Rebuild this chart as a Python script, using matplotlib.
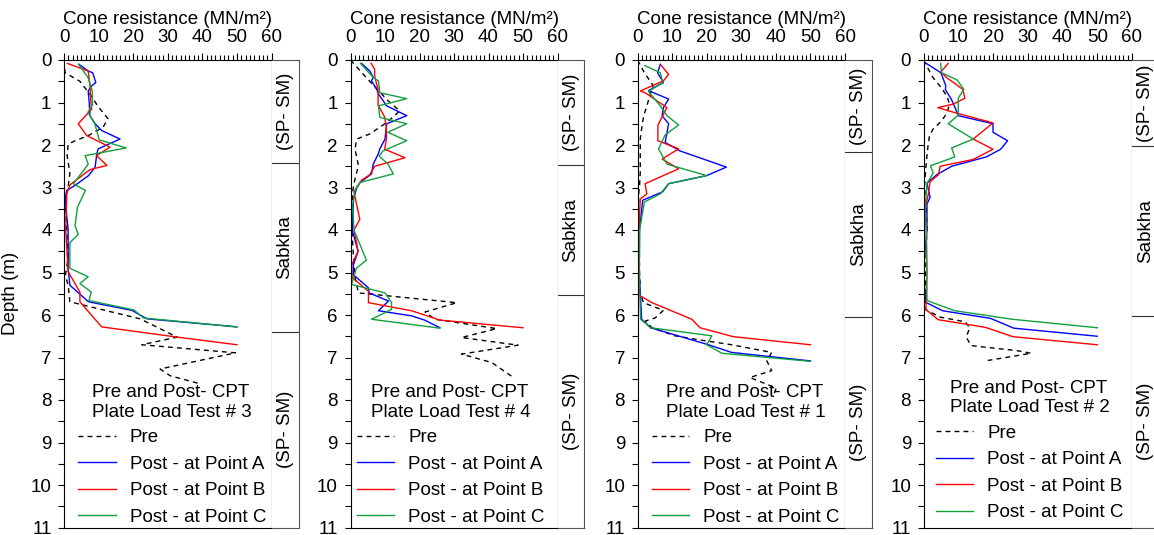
import matplotlib
matplotlib.use('Agg')
import matplotlib.pyplot as plt
from matplotlib.ticker import MultipleLocator

plt.rcParams['font.family'] = ['Liberation Sans', 'DejaVu Sans']
plt.rcParams['font.size'] = 13.5

# ---- data (depth in m, cone resistance in MN/m2) ----
# Plate Load Test # 3
t3_pre_d = [0, 0.3, 0.5, 0.86, 1.1, 1.38, 1.58, 1.78, 1.9, 1.98, 2.25, 2.66, 2.98, 3.3, 4.0, 4.66, 5.07, 5.3, 5.69, 6.09, 6.52, 6.7, 6.89, 7.27, 7.43, 7.62]
t3_pre_q = [0, 0.3, 4.6, 8.0, 9.9, 12.7, 11.3, 7.0, 3.2, 1.2, 0.9, 1.7, 1.2, 0.3, 0.8, 1.2, 0.4, 1.2, 1.7, 22.0, 32.7, 22.5, 49.6, 27.8, 30.7, 39.4]
t3_a_d = [0.1, 0.26, 0.3, 0.53, 0.61, 0.73, 1.0, 1.31, 1.5, 1.66, 1.86, 2.09, 2.2, 2.52, 2.72, 2.95, 3.07, 3.27, 4.0, 4.9, 5.3, 5.69, 5.89, 6.09, 6.28]
t3_a_q = [4.3, 7.0, 8.3, 9.2, 8.0, 7.0, 7.3, 7.5, 9.0, 10.9, 16.2, 9.9, 9.5, 9.0, 7.1, 3.2, 0.8, 0.3, 1.2, 1.2, 1.7, 7.1, 19.6, 24.0, 50.0]
t3_b_d = [0.08, 0.26, 0.6, 1.0, 1.16, 1.5, 1.78, 2.05, 2.25, 2.48, 2.58, 2.82, 2.94, 3.14, 4.0, 4.98, 5.46, 5.69, 6.28, 6.52, 6.7]
t3_b_q = [1.0, 7.0, 7.5, 7.8, 8.0, 4.1, 6.6, 13.3, 9.4, 12.4, 7.5, 3.6, 1.7, 0.8, 0.5, 1.2, 4.6, 4.6, 10.9, 32.7, 50.0]
t3_c_d = [0.1, 0.42, 0.74, 1.06, 1.23, 1.5, 1.88, 2.07, 2.25, 2.45, 2.84, 2.91, 3.07, 3.46, 3.9, 4.1, 4.3, 4.9, 5.1, 5.26, 5.46, 5.66, 5.88, 6.07, 6.28]
t3_c_q = [4.2, 7.0, 8.2, 8.2, 6.9, 8.9, 10.2, 18.0, 6.1, 7.0, 3.4, 2.7, 6.2, 3.9, 3.2, 4.1, 1.7, 1.7, 7.0, 4.6, 7.9, 7.2, 20.2, 23.0, 50.0]
t3_layers = [0, 2.42, 6.4, 11]

# Plate Load Test # 4
t4_pre_d = [0, 0.47, 0.96, 1.2, 1.47, 1.74, 1.86, 2.1, 2.48, 2.8, 3.1, 4.0, 5.07, 5.48, 5.71, 5.93, 6.1, 6.32, 6.53, 6.71, 6.92, 7.12, 7.47]
t4_pre_q = [0, 5.2, 10.9, 14.3, 10.5, 5.6, 1.8, 1.3, 2.3, 1.3, 0.6, 0.4, 1.2, 2.3, 30.8, 21.6, 24.5, 42.4, 32.2, 48.6, 32.2, 41.0, 47.2]
t4_a_d = [0.08, 0.26, 0.41, 0.49, 0.69, 0.8, 1.08, 1.31, 1.5, 1.86, 2.09, 2.2, 2.45, 2.68, 2.88, 3.0, 3.27, 4.0, 4.5, 4.83, 5.05, 5.36, 5.48, 5.67, 5.9, 6.02, 6.12, 6.3]
t4_a_q = [3.2, 5.6, 6.6, 6.1, 7.6, 8.1, 10.5, 16.3, 10.5, 10.0, 8.5, 8.1, 6.6, 6.1, 2.8, 1.8, 0.9, 0.5, 2.2, 0.8, 0.8, 5.2, 5.4, 11.0, 8.1, 17.7, 21.5, 25.9]
t4_b_d = [0.08, 0.22, 0.38, 0.7, 1.06, 1.34, 1.58, 1.86, 2.1, 2.3, 2.5, 2.7, 2.83, 3.1, 3.75, 4.0, 4.27, 4.5, 4.83, 5.12, 5.44, 5.71, 5.9, 6.12, 6.3]
t4_b_q = [6.0, 7.0, 7.0, 8.0, 8.0, 9.9, 10.4, 10.4, 9.9, 15.8, 7.0, 5.6, 3.2, 1.0, 2.7, 1.0, 1.7, 2.2, 0.3, 0.5, 5.2, 5.2, 17.7, 25.9, 50.0]
t4_c_d = [0.08, 0.41, 0.49, 0.77, 0.91, 1.08, 1.35, 1.5, 1.7, 1.9, 2.14, 2.26, 2.45, 2.68, 2.88, 3.07, 3.42, 4.0, 4.71, 4.9, 5.28, 5.48, 5.71, 5.87, 6.1, 6.31]
t4_c_q = [2.9, 6.6, 8.1, 8.5, 16.3, 8.1, 8.5, 16.3, 10.8, 16.3, 9.4, 8.3, 10.9, 12.4, 2.8, 1.3, 0.6, 1.0, 4.6, 1.7, 0.3, 10.0, 11.9, 11.9, 6.1, 25.9]
t4_layers = [0, 2.48, 5.52, 11]

# Plate Load Test # 1
t1_pre_d = [0, 0.3, 0.6, 0.8, 1.08, 1.31, 1.55, 1.86, 2.17, 2.64, 2.95, 3.19, 4.0, 5.0, 5.47, 5.71, 5.89, 6.07, 6.14, 6.3, 6.49, 6.57, 6.7, 6.88, 7.08, 7.31, 7.47, 7.72, 7.92]
t1_pre_q = [0, 2.0, 4.5, 3.7, 2.7, 1.8, 1.3, 0.8, 0.8, 0.8, 0.6, 0.3, 0.5, 0.6, 0.8, 1.7, 7.5, 5.1, 2.3, 4.2, 10.9, 16.7, 27.2, 38.8, 37.4, 38.8, 32.5, 40.1, 39.2]
t1_a_d = [0.1, 0.3, 0.53, 0.72, 0.92, 1.12, 1.31, 1.5, 1.94, 2.14, 2.52, 2.72, 2.91, 3.1, 3.3, 4.0, 5.0, 6.1, 6.3, 6.7, 6.88, 7.08]
t1_a_q = [6.6, 5.8, 7.5, 3.2, 9.0, 7.5, 7.1, 9.0, 8.0, 12.3, 25.7, 20.0, 9.0, 7.3, 1.5, 0.6, 0.5, 1.2, 3.8, 20.5, 27.2, 50.0]
t1_b_d = [0.13, 0.34, 0.49, 0.73, 0.77, 1.12, 1.53, 1.9, 2.09, 2.33, 2.56, 2.91, 3.15, 3.27, 4.0, 5.0, 5.52, 5.71, 6.1, 6.3, 6.51, 6.7]
t1_b_q = [6.9, 9.0, 7.5, 0.8, 2.2, 8.5, 5.9, 5.9, 11.9, 7.1, 11.9, 2.2, 2.7, 0.8, 0.4, 0.5, 0.2, 4.2, 15.7, 18.1, 27.7, 50.0]
t1_c_d = [0.13, 0.3, 0.53, 0.74, 1.08, 1.31, 1.53, 1.76, 2.09, 2.45, 2.72, 2.91, 3.15, 3.34, 4.0, 5.0, 6.1, 6.3, 6.49, 6.7, 6.9, 7.09]
t1_c_q = [2.1, 6.6, 7.3, 3.2, 6.6, 8.5, 11.9, 8.0, 6.1, 8.5, 20.0, 9.0, 6.6, 2.0, 0.6, 0.5, 0.9, 3.8, 21.5, 20.0, 24.4, 50.0]
t1_layers = [0, 2.17, 6.04, 11]

# Plate Load Test # 2
t2_pre_d = [0, 0.41, 0.65, 0.86, 1.05, 1.27, 1.45, 1.63, 1.8, 2.02, 2.4, 2.95, 3.9, 5.0, 5.87, 6.05, 6.16, 6.3, 6.52, 6.72, 6.84, 6.9, 7.07]
t2_pre_q = [0, 2.7, 5.1, 6.8, 7.5, 6.6, 5.0, 2.7, 1.7, 1.3, 0.8, 0.3, 1.0, 0.6, 0.5, 4.8, 12.0, 13.3, 12.3, 13.7, 27.0, 31.0, 18.5]
t2_a_d = [0.08, 0.3, 0.6, 0.7, 0.92, 1.22, 1.31, 1.5, 1.7, 1.9, 2.1, 2.28, 2.5, 2.7, 2.9, 3.23, 3.39, 4.0, 4.9, 5.7, 5.9, 6.08, 6.31, 6.5]
t2_a_q = [0.8, 5.0, 6.4, 6.3, 8.0, 9.6, 10.0, 20.0, 20.0, 24.2, 22.2, 18.1, 8.1, 3.8, 1.0, 1.9, 1.0, 1.0, 0.0, 0.6, 5.5, 19.3, 26.0, 50.0]
t2_b_d = [0.08, 0.28, 0.41, 0.69, 0.9, 1.04, 1.12, 1.25, 1.48, 1.86, 2.1, 2.34, 2.5, 2.7, 2.86, 3.15, 3.5, 4.0, 5.0, 5.87, 6.11, 6.29, 6.51, 6.7]
t2_b_q = [7.1, 5.0, 6.6, 11.3, 11.9, 8.5, 4.1, 9.5, 20.0, 14.3, 20.0, 14.3, 4.8, 4.3, 1.9, 1.4, 0.5, 0.8, 1.0, 0.7, 4.2, 17.8, 25.7, 50.0]
t2_c_d = [0.08, 0.3, 0.47, 0.69, 0.9, 1.3, 1.5, 1.86, 2.07, 2.28, 2.49, 2.66, 2.9, 3.5, 4.0, 5.0, 5.66, 5.9, 6.1, 6.3]
t2_c_q = [4.9, 5.2, 9.7, 11.6, 10.0, 10.0, 7.1, 14.3, 8.1, 9.0, 2.0, 2.8, 1.0, 0.5, 0.8, 0.9, 1.0, 9.0, 25.5, 50.0]
t2_layers = [0, 2.03, 6.02, 11]

layer_names = ['(SP- SM)', 'Sabkha', '(SP- SM)']
series_labels = ['Pre', 'Post - at Point A', 'Post - at Point B', 'Post - at Point C']
series_colors = ['black', '#0000ff', '#ff0000', '#10a03c']

W, H = 1154, 535
fig = plt.figure(figsize=(W / 100, H / 100), dpi=100)

AX_TOP, AX_BOT = 60, 527.5
COL_W = 27


def frac_box(x0, x1):
    return [x0 / W, (H - AX_BOT) / H, (x1 - x0) / W, (AX_BOT - AX_TOP) / H]


def draw_panel(x0, x1, test_no, curves, layers, leg_x, leg_y, first=False):
    ax = fig.add_axes(frac_box(x0, x1))
    for k, (d, q) in enumerate(curves):
        ls = (0, (3.5, 3)) if k == 0 else '-'
        ax.plot(q, d, color=series_colors[k], lw=1.0, ls=ls, label=series_labels[k])
    ax.set_xlim(0, 60)
    ax.set_ylim(11, 0)
    ax.xaxis.tick_top()
    ax.xaxis.set_label_position('top')
    ax.xaxis.set_major_locator(MultipleLocator(10))
    ax.xaxis.set_minor_locator(MultipleLocator(1.25))
    ax.yaxis.set_major_locator(MultipleLocator(1))
    ax.yaxis.set_minor_locator(MultipleLocator(0.5))
    ax.tick_params(axis='x', which='major', direction='out', length=5, width=0.8, pad=5)
    ax.tick_params(axis='x', which='minor', direction='out', length=3.5, width=0.8)
    ax.tick_params(axis='y', which='major', direction='out', length=4, width=0.8, pad=5)
    ax.tick_params(axis='y', which='minor', direction='out', length=4, width=0.8)
    for s in ax.spines.values():
        s.set_linewidth(0.8)
    ax.set_xlabel('Cone resistance (MN/m\u00b2)', labelpad=4)
    if first:
        ax.set_ylabel('Depth (m)')
        ax.yaxis.set_label_coords(-0.215, 0.5)
    leg = ax.legend(loc='lower left', bbox_to_anchor=(leg_x, leg_y), frameon=False,
                    title='Pre and Post- CPT\nPlate Load Test # %d' % test_no,
                    title_fontsize=13.5, handlelength=2.0, handletextpad=0.75,
                    labelspacing=0.5, borderpad=0.1, borderaxespad=0)
    leg._legend_box.sep = 6

    # soil layer column on the right
    sax = fig.add_axes(frac_box(x1, x1 + COL_W))
    sax.set_xlim(0, 1)
    sax.set_ylim(11, 0)
    sax.set_xticks([])
    sax.set_yticks([])
    sax.spines['left'].set_visible(False)
    for side in ['top', 'bottom', 'right']:
        sax.spines[side].set_color('#555555')
        sax.spines[side].set_linewidth(0.8)
    for b in layers[1:-1]:
        sax.axhline(b, color='#333333', lw=0.8)
    for name, top, bot in zip(layer_names, layers[:-1], layers[1:]):
        sax.text(0.5, (top + bot) / 2, name, rotation=90, ha='center', va='center')
    return ax


draw_panel(64, 271.5, 3,
           [(t3_pre_d, t3_pre_q), (t3_a_d, t3_a_q), (t3_b_d, t3_b_q), (t3_c_d, t3_c_q)],
           t3_layers, 0.06, 0.0, first=True)
draw_panel(350.5, 557.5, 4,
           [(t4_pre_d, t4_pre_q), (t4_a_d, t4_a_q), (t4_b_d, t4_b_q), (t4_c_d, t4_c_q)],
           t4_layers, 0.02, 0.0)
draw_panel(637.5, 845, 1,
           [(t1_pre_d, t1_pre_q), (t1_a_d, t1_a_q), (t1_b_d, t1_b_q), (t1_c_d, t1_c_q)],
           t1_layers, 0.06, 0.0)
draw_panel(923.5, 1132, 2,
           [(t2_pre_d, t2_pre_q), (t2_a_d, t2_a_q), (t2_b_d, t2_b_q), (t2_c_d, t2_c_q)],
           t2_layers, 0.05, 0.009)

fig.savefig('out.png', dpi=100)
